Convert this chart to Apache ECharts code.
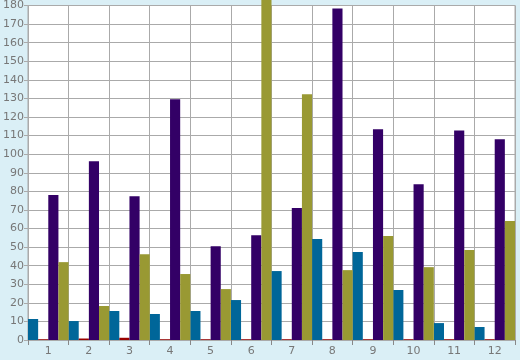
<!DOCTYPE html>
<html><head><meta charset="utf-8">
<script src="https://cdn.jsdelivr.net/npm/echarts@6/dist/echarts.min.js"></script>
<style>html,body{margin:0;padding:0;background:#DAEFF6;}#c{width:520px;height:360px;}</style>
</head><body><div id="c"></div>
<script>
const categories = ['1','2','3','4','5','6','7','8','9','10','11','12'];
const blueValues   = [11.3, 10.2, 15.6, 14, 15.6, 21.5, 37.1, 54.3, 47.3, 26.9, 9.1, 7];
const redValues    = [0.4, 0.8, 1.2, 0.4, 0.4, 0.4, 0.4, 0.4, 0.4, 0.4, 0.4, 0.4];
const purpleValues = [78, 96.2, 77.4, 129.5, 50.5, 56.4, 71, 178.4, 113.4, 83.8, 112.8, 108];
const oliveValues  = [41.9, 18.3, 46.2, 35.5, 27.4, 200, 132.2, 37.6, 55.9, 39.2, 48.4, 64];
const yTicks = {min: 0, max: 180, interval: 10};

const chart = echarts.init(document.getElementById('c'), null, {renderer: 'canvas'});
const font = {color: '#777', fontFamily: 'DejaVu Sans', fontSize: 11};
function bar(name, data, color) {
  return {name, type: 'bar', data, clip: false, barGap: '0%', barCategoryGap: '0%',
    itemStyle: {color}, animation: false};
}
chart.setOption({
  backgroundColor: '#DAEFF6',
  animation: false,
  grid: {left: 26, right: 5, top: 5, bottom: 20, show: true, backgroundColor: '#fff', borderColor: '#aaa', borderWidth: 1},
  xAxis: {
    type: 'category', data: categories,
    axisLine: {lineStyle: {color: '#aaa'}},
    axisTick: {show: true, length: 5, lineStyle: {color: '#888'}},
    axisLabel: Object.assign({margin: 6}, font),
    splitLine: {show: true, lineStyle: {color: '#aaa', width: 1}}
  },
  yAxis: {
    type: 'value', min: yTicks.min, max: yTicks.max, interval: yTicks.interval,
    axisLine: {show: true, lineStyle: {color: '#aaa'}},
    axisTick: {show: true, length: 4, lineStyle: {color: '#aaa'}},
    axisLabel: Object.assign({margin: 4}, font),
    splitLine: {show: true, lineStyle: {color: '#aaa', width: 1}}
  },
  series: [
    bar('blue', blueValues, '#006699'),
    bar('red', redValues, '#990000'),
    bar('purple', purpleValues, '#330066'),
    bar('olive', oliveValues, '#999933')
  ]
});
</script></body></html>
